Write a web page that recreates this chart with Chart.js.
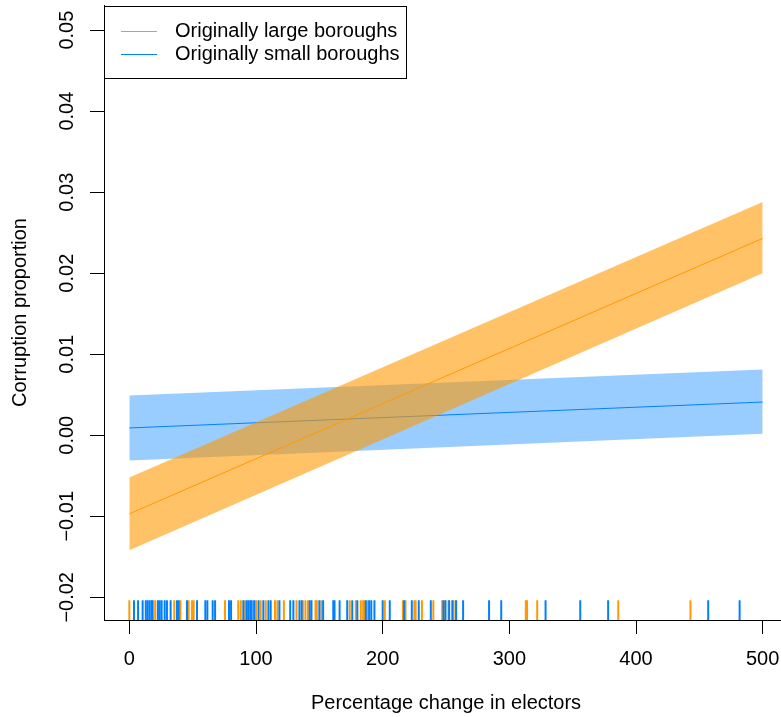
<!DOCTYPE html>
<html>
<head>
<meta charset="utf-8">
<script src="https://cdn.jsdelivr.net/npm/chart.js@4.4.0/dist/chart.umd.min.js"></script>
<style>
  body { margin: 0; overflow: hidden; background: #fff; }
  #wrap { width: 781px; height: 717px; overflow: hidden; }
</style>
</head>
<body>
<div id="wrap"><canvas id="chart" width="788" height="717"></canvas></div>
<script>
const xEnds = [0, 500];
const largeFit = [-0.0097, 0.0243];
const largeUpper = [-0.0052, 0.0288];
const largeLower = [-0.0142, 0.0200];
const smallFit = [0.0009, 0.0041];
const smallUpper = [0.0049, 0.0081];
const smallLower = [-0.0031, 0.0002];

// rug: percentage change in electors of each borough
const largeRug = [0, 19, 20.5, 35.5, 40.3, 46.8, 49.5, 50.8, 75.5, 86, 88, 91.4, 100, 103.7,
  107.7, 115, 116.9, 122, 132, 137, 139, 141, 147, 148, 151.6, 174, 178.8, 182.7, 184.6,
  185.3, 188, 201.7, 216, 218, 225, 226, 231, 240, 247, 249, 252, 255.7, 257.5, 313, 314,
  322, 386, 443];
const smallRug = [3.7, 6.9, 10.5, 13, 14.5, 16, 17.5, 18, 22.6, 24, 25.5, 27.9, 29.7, 32.6,
  37.6, 39, 45.5, 53.4, 60, 61.6, 65.8, 67.7, 78.7, 80.3, 90, 92.7, 94, 95.5, 96.6, 98.5,
  102, 105.8, 109.8, 111.6, 118.5, 127, 129.5, 134.3, 136, 142.4, 143.8, 150, 153, 161, 162,
  166, 172, 176, 180, 186.7, 189.3, 191, 193.5, 200, 205.6, 217, 223, 228.5, 238, 248, 249.6,
  252.5, 255, 258, 263.5, 284, 293.6, 328.6, 356, 378, 457, 481.8];

const seriesNames = ['Originally large boroughs', 'Originally small boroughs'];
const xTicks = [0, 100, 200, 300, 400, 500];
const yTicks = [-0.02, -0.01, 0, 0.01, 0.02, 0.03, 0.04, 0.05];
const yTickLabels = ['\u22120.02', '\u22120.01', '0.00', '0.01', '0.02', '0.03', '0.04', '0.05'];

const ORANGE = '#FF9900';
const BLUE = '#0080FF';
const FONT = 'Liberation Sans, Arial, Helvetica, sans-serif';
const RUG_Y = -0.0216;

const pts = (xs, ys) => xs.map((x, i) => ({ x: x, y: ys[i] }));
const rug = xs => xs.map(x => ({ x: x, y: RUG_Y }));

const lineDs = (label, data, color) => ({
  label, data, showLine: true, borderColor: color, borderWidth: 1,
  pointRadius: 0, fill: false
});
const edgeDs = (data, fill, bg) => ({
  label: '', data, showLine: true, borderWidth: 0, borderColor: 'rgba(0,0,0,0)',
  pointRadius: 0, fill: fill, backgroundColor: bg
});
const rugDs = (data, color) => ({
  label: '', data, pointStyle: 'line', rotation: 90, pointRadius: 10,
  borderColor: color, borderWidth: 2, showLine: false
});

// legend drawn in the corner of the plot, R style
const legendBox = {
  id: 'legendBox',
  afterDatasetsDraw(chart) {
    const ctx = chart.ctx;
    const x0 = chart.chartArea.left, y0 = chart.chartArea.top + 1;
    const colors = [ORANGE, BLUE];
    ctx.save();
    ctx.fillStyle = '#fff';
    ctx.fillRect(x0, y0, 302, 72);
    ctx.strokeStyle = '#000';
    ctx.lineWidth = 1;
    ctx.strokeRect(x0 + 0.5, y0 + 0.5, 302, 72);
    ctx.font = '20px ' + FONT;
    ctx.textBaseline = 'middle';
    seriesNames.forEach((name, i) => {
      const y = Math.round(y0 + 25 + i * 23);
      ctx.fillStyle = colors[i];
      ctx.fillRect(x0 + 17, y, 36, 1);
      ctx.fillStyle = '#000';
      ctx.fillText(name, x0 + 71, y);
    });
    ctx.restore();
  }
};

new Chart(document.getElementById('chart'), {
  type: 'scatter',
  data: {
    datasets: [
      lineDs(seriesNames[0], pts(xEnds, largeFit), ORANGE),
      edgeDs(pts(xEnds, largeUpper), '+1', 'rgba(255,153,0,0.6)'),
      edgeDs(pts(xEnds, largeLower), false, 'rgba(0,0,0,0)'),
      lineDs(seriesNames[1], pts(xEnds, smallFit), BLUE),
      edgeDs(pts(xEnds, smallUpper), '+1', 'rgba(0,128,255,0.4)'),
      edgeDs(pts(xEnds, smallLower), false, 'rgba(0,0,0,0)'),
      rugDs(rug(smallRug), BLUE),
      rugDs(rug(largeRug), ORANGE)
    ]
  },
  options: {
    responsive: false,
    animation: false,
    devicePixelRatio: 1,
    layout: { autoPadding: false, padding: { top: 5, left: 0, right: 0, bottom: 0 } },
    plugins: { legend: { display: false }, tooltip: { enabled: false } },
    scales: {
      x: {
        type: 'linear', min: -20, max: 520,
        afterBuildTicks: s => { s.ticks = xTicks.map(v => ({ value: v })); },
        afterFit: s => { s.height = 97; s.paddingLeft = 0; s.paddingRight = 0; },
        grid: { drawOnChartArea: false, tickLength: 14, tickColor: '#000' },
        border: { color: '#000', width: 1 },
        ticks: { color: '#000', padding: 13, font: { family: FONT, size: 20 }, maxRotation: 0 },
        title: { display: true, text: 'Percentage change in electors', color: '#000',
          font: { family: FONT, size: 20 }, padding: { top: 0, bottom: 2 } }
      },
      y: {
        type: 'linear', min: -0.0228, max: 0.0531,
        afterBuildTicks: s => { s.ticks = yTicks.map(v => ({ value: v })); },
        afterFit: s => { s.width = 104; s.paddingTop = 0; s.paddingBottom = 0; },
        grid: { drawOnChartArea: false, tickLength: 14, tickColor: '#000' },
        border: { color: '#000', width: 1 },
        ticks: { color: '#000', padding: -3, minRotation: 90, maxRotation: 90, crossAlign: 'center',
          font: { family: FONT, size: 20 }, callback: (v, i) => yTickLabels[i] },
        title: { display: true, text: 'Corruption proportion', color: '#000',
          font: { family: FONT, size: 20 }, padding: { top: 8, bottom: 0 } }
      }
    }
  },
  plugins: [legendBox]
});
</script>
</body>
</html>
